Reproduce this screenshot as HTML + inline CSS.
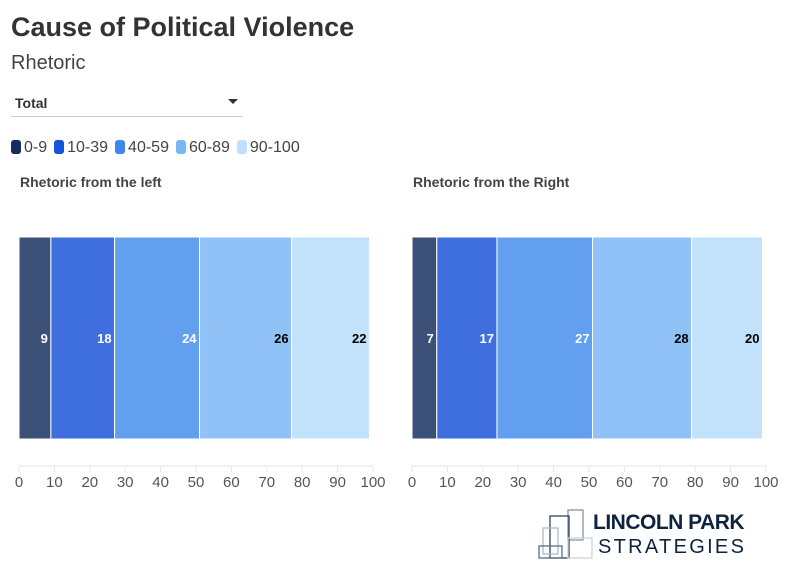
<!DOCTYPE html>
<html><head><meta charset="utf-8"><style>
body{margin:0;width:794px;height:575px;background:#fff;font-family:"Liberation Sans",sans-serif;overflow:hidden;position:relative}
.t{position:absolute;white-space:nowrap}
</style></head><body>
<div class="t" style="left:11px;top:12px;font-size:27px;font-weight:bold;color:#333">Cause of Political Violence</div>
<div class="t" style="left:11px;top:52px;font-size:20px;color:#444">Rhetoric</div>
<div style="position:absolute;left:11px;top:92px;width:231px;height:24px;border-bottom:1px solid #ccc">
<span class="t" style="left:4px;top:3px;font-size:14px;font-weight:bold;color:#333">Total</span>
<span class="t" style="right:4px;top:7px;width:0;height:0;border-left:5px solid transparent;border-right:5px solid transparent;border-top:5px solid #333"></span>
</div>
<div id="legend" style="position:absolute;left:11px;top:139px;font-size:16px;color:#444;display:flex;gap:7px"></div>
<div class="t" style="left:20px;top:174px;font-size:14px;font-weight:bold;color:#444">Rhetoric from the left</div>
<div class="t" style="left:413px;top:174px;font-size:14px;font-weight:bold;color:#444">Rhetoric from the Right</div>
<svg id="chart" width="794" height="575" style="position:absolute;left:0;top:0"></svg>
<div style="position:absolute;left:538px;top:508px">
<svg width="60" height="52" style="position:absolute;left:0;top:0">
<g fill="none" stroke-width="1.3">
<rect x="30" y="2" width="15" height="30" stroke="#7f93a8"/>
<rect x="12" y="8" width="19" height="42" stroke="#334455"/>
<rect x="5" y="20" width="15" height="26" stroke="#aabbcc"/>
<rect x="1" y="38" width="23" height="12" stroke="#5a6f85"/>
<rect x="30" y="30" width="24" height="20" stroke="#c8d4de"/>
</g></svg>
<div class="t" style="left:55px;top:3px;font-size:21px;font-weight:bold;color:#0f2340;letter-spacing:-0.5px">LINCOLN PARK</div>
<div class="t" style="left:60px;top:28px;font-size:20px;letter-spacing:2.3px;color:#0f2340">STRATEGIES</div>
</div>
<script>
const categories=["0-9","10-39","40-59","60-89","90-100"];
const leftValues=[9,18,24,26,22];
const rightValues=[7,17,27,28,20];
const ticks=[0,10,20,30,40,50,60,70,80,90,100];
const legendColors=["#172b5c","#1553d8","#3d88ea","#7ab8f5","#bfe0fc"];
const barColors=["#3c5078","#3f6fde","#62a0ef","#90c2f7","#c2e1fb"];
const labelColors=["#fff","#fff","#fff","#000","#000"];
const svg=document.getElementById('chart');const NS='http://www.w3.org/2000/svg';
const leg=document.getElementById('legend');
categories.forEach((c,i)=>{const s=document.createElement('span');


s.innerHTML='<span style="display:inline-block;width:10px;height:14px;border-radius:3px;background:'+legendColors[i]+';vertical-align:-2px;margin-right:3px"></span>'+c;leg.appendChild(s);});
function mk(t,a){const e=document.createElementNS(NS,t);for(const k in a)e.setAttribute(k,a[k]);svg.appendChild(e);return e;}
function panel(x0,x1,vals,name){
 const sx=v=>x0+(x1-x0)*v/100;
 let cum=0;
 vals.forEach((v,i)=>{const a=sx(cum),b=sx(cum+v);cum+=v;
  const r=mk('rect',{x:a,y:237,width:b-a,height:202,fill:barColors[i],stroke:'#fff','stroke-width':1});
  
  
  const t=mk('text',{x:b-3,y:343,'text-anchor':'end','font-size':13,'font-weight':'bold',fill:labelColors[i]});t.textContent=v;
  
  
 });
 const ax=mk('line',{x1:x0,x2:x1,y1:466,y2:466,stroke:'#e6e6e6'});
 
 
 ticks.forEach(tk=>{mk('line',{x1:sx(tk),x2:sx(tk),y1:466,y2:472,stroke:'#e6e6e6'});
  const t=mk('text',{x:sx(tk),y:487,'text-anchor':'middle','font-size':15,fill:'#555'});t.textContent=tk;
  
  });
}
panel(19,373,leftValues,'left');
panel(412,766,rightValues,'right');
</script>
</body></html>
